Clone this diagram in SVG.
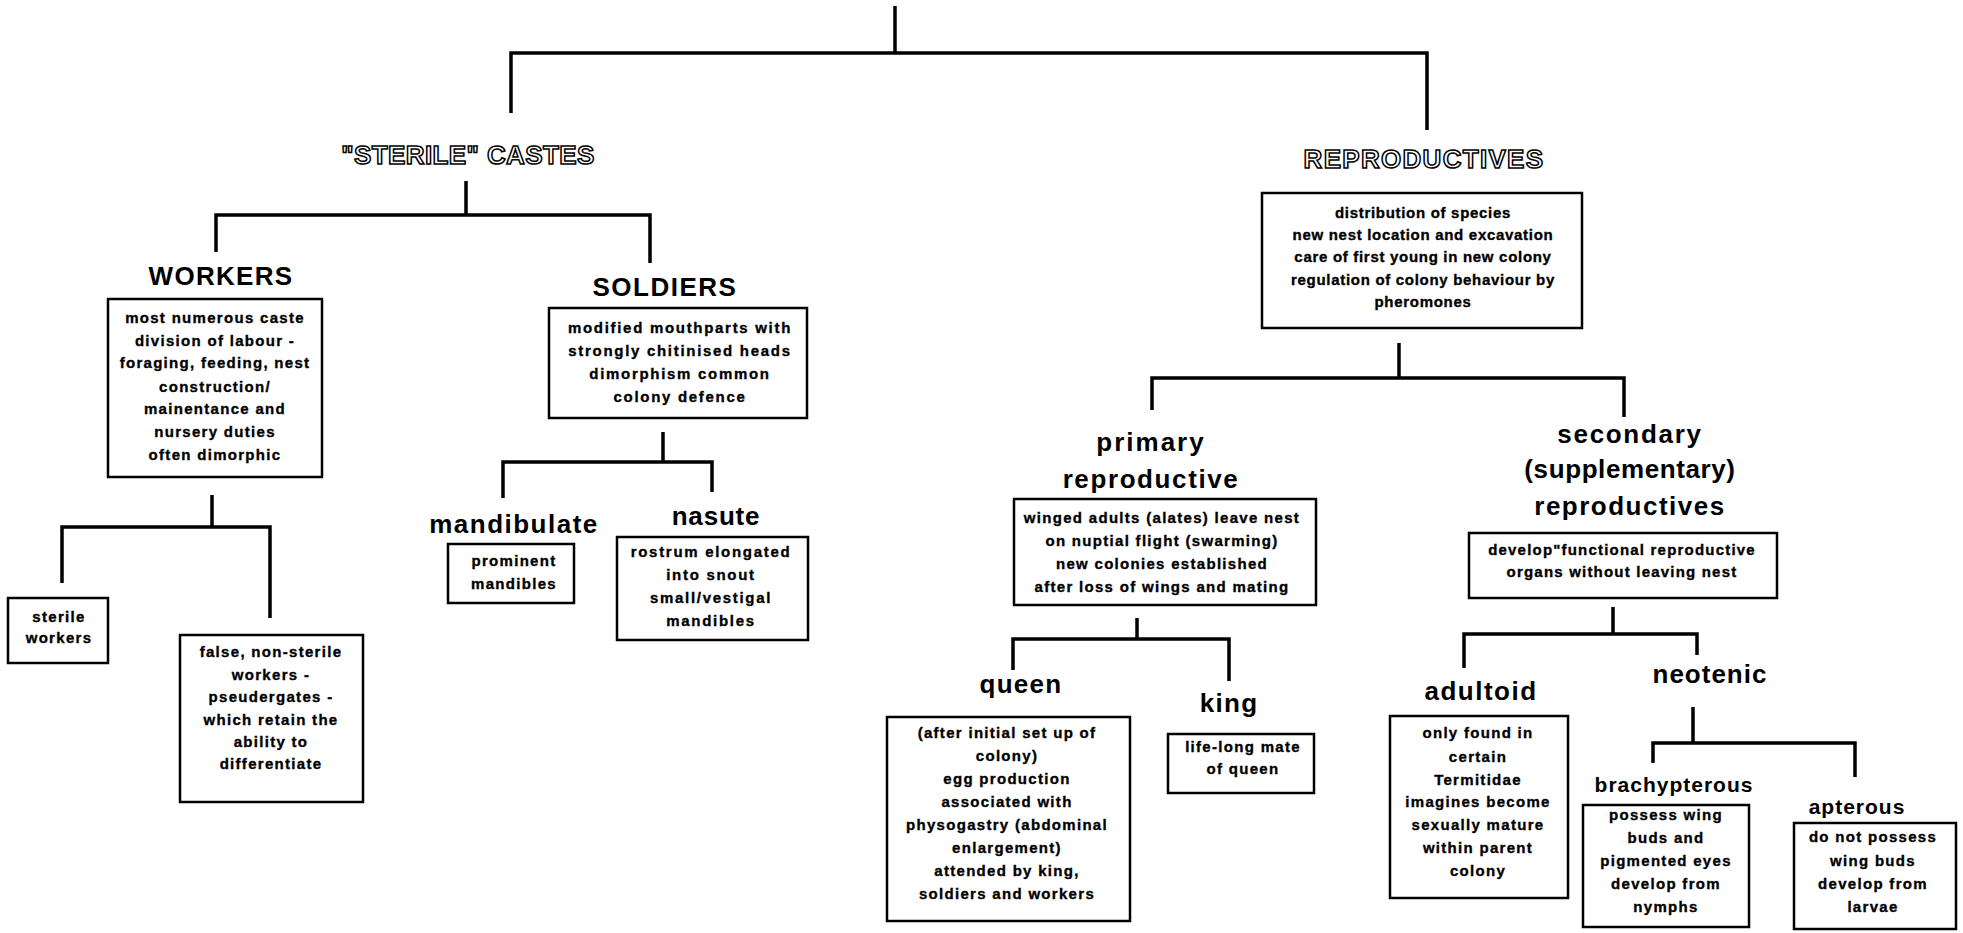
<svg xmlns="http://www.w3.org/2000/svg" width="1963" height="933" viewBox="0 0 1963 933">
<style>
  .bg{fill:#ffffff}
  .conn{fill:none;stroke:#000;stroke-width:3.5;stroke-linejoin:miter;stroke-linecap:butt}
  .box{fill:#fff;stroke:#000;stroke-width:2.5}
  .t{font-family:"Liberation Sans",Arial,sans-serif;font-weight:bold;font-size:15px;letter-spacing:1.3px;text-anchor:middle;fill:#000;stroke:#000;stroke-width:0.35}
  .t2{letter-spacing:1.7px}
  .t3{letter-spacing:0.7px}
  .h{font-family:"Liberation Sans",Arial,sans-serif;font-weight:bold;font-size:26px;letter-spacing:1.5px;text-anchor:middle;fill:#000}
  .hs{font-size:21px;letter-spacing:1px}
  .out{font-family:"Liberation Sans",Arial,sans-serif;font-weight:bold;font-size:26px;text-anchor:middle;fill:#fff;stroke:#000;stroke-width:1.5}
</style>
<rect class="bg" x="0" y="0" width="1963" height="933"/>

<g id="connectors">
  <path class="conn" d="M895,6 V53 M511,113 V53 H1427 V130"/>
  <path class="conn" d="M466,181 V215 M216,252 V215 H650 V263"/>
  <path class="conn" d="M212,495 V527 M62,583 V527 H270 V618"/>
  <path class="conn" d="M663,432 V462 M503,498 V462 H712 V492"/>
  <path class="conn" d="M1399,343 V378 M1152,410 V378 H1624 V417"/>
  <path class="conn" d="M1137,618 V639 M1013,670 V639 H1229 V681"/>
  <path class="conn" d="M1613,607 V634 M1464,668 V634 H1697 V655"/>
  <path class="conn" d="M1693,707 V743 M1653,763 V743 H1855 V777"/>
</g>

<g id="sterile-castes">
  <text class="out" x="468" y="164" style="letter-spacing:0.4px">"STERILE" CASTES</text>
</g>

<g id="reproductives">
  <text class="out" x="1424" y="168" style="letter-spacing:1.3px">REPRODUCTIVES</text>
  <rect class="box" x="1262" y="193" width="320" height="135"/>
  <text class="t t3" x="1423" y="218">distribution of species</text>
  <text class="t t3" x="1423" y="240">new nest location and excavation</text>
  <text class="t t3" x="1423" y="262">care of first young in new colony</text>
  <text class="t t3" x="1423" y="285">regulation of colony behaviour by</text>
  <text class="t t3" x="1423" y="307">pheromones</text>
</g>

<g id="workers">
  <text class="h" x="221" y="285" style="letter-spacing:1.3px">WORKERS</text>
  <rect class="box" x="108" y="299" width="214" height="178"/>
  <text class="t" x="215" y="323">most numerous caste</text>
  <text class="t" x="215" y="346">division of labour -</text>
  <text class="t" x="215" y="368">foraging, feeding, nest</text>
  <text class="t" x="215" y="392">construction/</text>
  <text class="t" x="215" y="414">mainentance and</text>
  <text class="t" x="215" y="437">nursery duties</text>
  <text class="t" x="215" y="460">often dimorphic</text>
</g>

<g id="sterile-workers">
  <rect class="box" x="8" y="598" width="100" height="65"/>
  <text class="t" x="59" y="622">sterile</text>
  <text class="t" x="59" y="643">workers</text>
</g>

<g id="false-workers">
  <rect class="box" x="180" y="635" width="183" height="167"/>
  <text class="t" x="271" y="657">false, non-sterile</text>
  <text class="t" x="271" y="680">workers -</text>
  <text class="t" x="271" y="702">pseudergates -</text>
  <text class="t" x="271" y="725">which retain the</text>
  <text class="t" x="271" y="747">ability to</text>
  <text class="t" x="271" y="769">differentiate</text>
</g>

<g id="soldiers">
  <text class="h" x="665" y="296">SOLDIERS</text>
  <rect class="box" x="549" y="308" width="258" height="110"/>
  <text class="t t2" x="680" y="333">modified mouthparts with</text>
  <text class="t t2" x="680" y="356">strongly chitinised heads</text>
  <text class="t t2" x="680" y="379">dimorphism common</text>
  <text class="t t2" x="680" y="402">colony defence</text>
</g>

<g id="mandibulate">
  <text class="h" x="514" y="533">mandibulate</text>
  <rect class="box" x="448" y="544" width="126" height="59"/>
  <text class="t" x="514" y="566">prominent</text>
  <text class="t" x="514" y="589">mandibles</text>
</g>

<g id="nasute">
  <text class="h" x="716" y="525" style="letter-spacing:0.8px">nasute</text>
  <rect class="box" x="617" y="537" width="191" height="103"/>
  <text class="t t2" x="711" y="557">rostrum elongated</text>
  <text class="t t2" x="711" y="580">into snout</text>
  <text class="t t2" x="711" y="603">small/vestigal</text>
  <text class="t t2" x="711" y="626">mandibles</text>
</g>

<g id="primary-reproductive">
  <text class="h" x="1151" y="451" style="letter-spacing:2px">primary</text>
  <text class="h" x="1151" y="488" style="letter-spacing:1.6px">reproductive</text>
  <rect class="box" x="1014" y="499" width="302" height="106"/>
  <text class="t" x="1162" y="523">winged adults (alates) leave nest</text>
  <text class="t" x="1162" y="546">on nuptial flight (swarming)</text>
  <text class="t" x="1162" y="569">new colonies established</text>
  <text class="t" x="1162" y="592">after loss of wings and mating</text>
</g>

<g id="queen">
  <text class="h" x="1021" y="693" style="letter-spacing:1.3px">queen</text>
  <rect class="box" x="887" y="717" width="243" height="204"/>
  <text class="t" x="1007" y="738">(after initial set up of</text>
  <text class="t" x="1007" y="761">colony)</text>
  <text class="t" x="1007" y="784">egg production</text>
  <text class="t" x="1007" y="807">associated with</text>
  <text class="t" x="1007" y="830">physogastry (abdominal</text>
  <text class="t" x="1007" y="853">enlargement)</text>
  <text class="t" x="1007" y="876">attended by king,</text>
  <text class="t" x="1007" y="899">soldiers and workers</text>
</g>

<g id="king">
  <text class="h" x="1229" y="712" style="letter-spacing:1.3px">king</text>
  <rect class="box" x="1168" y="734" width="146" height="59"/>
  <text class="t" x="1243" y="752">life-long mate</text>
  <text class="t" x="1243" y="774">of queen</text>
</g>

<g id="secondary-reproductives">
  <text class="h" x="1630" y="443" style="letter-spacing:1.7px">secondary</text>
  <text class="h" x="1630" y="478" style="letter-spacing:0.6px">(supplementary)</text>
  <text class="h" x="1630" y="515">reproductives</text>
  <rect class="box" x="1469" y="533" width="308" height="65"/>
  <text class="t t3" x="1622" y="555" style="letter-spacing:1.2px">develop"functional reproductive</text>
  <text class="t t3" x="1622" y="577" style="letter-spacing:1.2px">organs without leaving nest</text>
</g>

<g id="adultoid">
  <text class="h" x="1481" y="700">adultoid</text>
  <rect class="box" x="1390" y="716" width="178" height="182"/>
  <text class="t" x="1478" y="738">only found in</text>
  <text class="t" x="1478" y="762">certain</text>
  <text class="t" x="1478" y="785">Termitidae</text>
  <text class="t" x="1478" y="807">imagines become</text>
  <text class="t" x="1478" y="830">sexually mature</text>
  <text class="t" x="1478" y="853">within parent</text>
  <text class="t" x="1478" y="876">colony</text>
</g>

<g id="neotenic">
  <text class="h" x="1710" y="683" style="letter-spacing:1px">neotenic</text>
</g>

<g id="brachypterous">
  <text class="h hs" x="1674" y="792">brachypterous</text>
  <rect class="box" x="1583" y="805" width="166" height="122"/>
  <text class="t" x="1666" y="820">possess wing</text>
  <text class="t" x="1666" y="843">buds and</text>
  <text class="t" x="1666" y="866">pigmented eyes</text>
  <text class="t" x="1666" y="889">develop from</text>
  <text class="t" x="1666" y="912">nymphs</text>
</g>

<g id="apterous">
  <text class="h hs" x="1857" y="814">apterous</text>
  <rect class="box" x="1794" y="823" width="162" height="106"/>
  <text class="t" x="1873" y="842">do not possess</text>
  <text class="t" x="1873" y="866">wing buds</text>
  <text class="t" x="1873" y="889">develop from</text>
  <text class="t" x="1873" y="912">larvae</text>
</g>
</svg>
